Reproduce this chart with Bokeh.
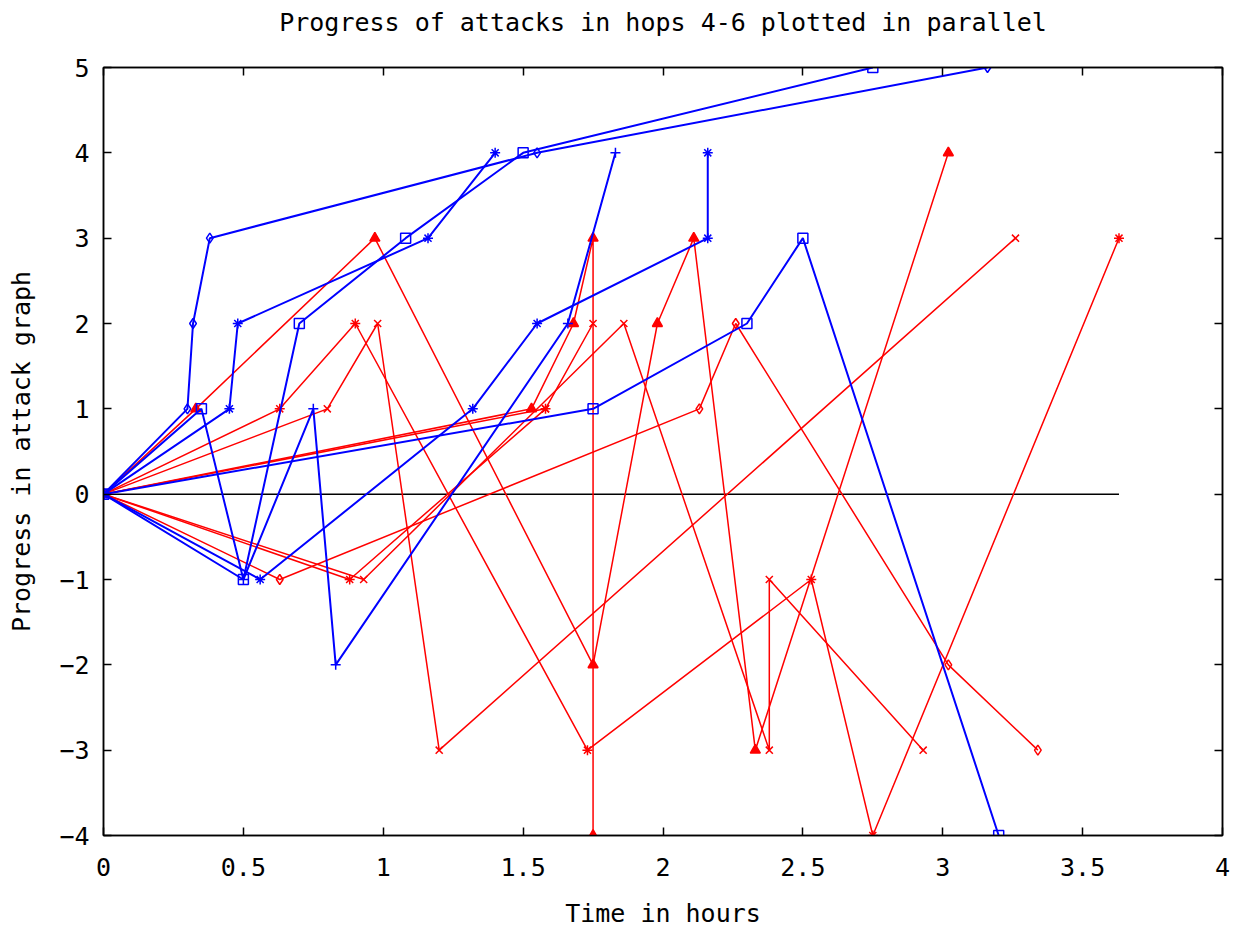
from bokeh.plotting import figure
from bokeh.models import LinearAxis, FixedTicker, NumeralTickFormatter, Range1d
from bokeh.embed import file_html
from bokeh.resources import INLINE

# ---- data (time in hours, progress in attack graph) ----
x_ticks = [0, 0.5, 1, 1.5, 2, 2.5, 3, 3.5, 4]
y_ticks = [-4, -3, -2, -1, 0, 1, 2, 3, 4, 5]

# blue series
b1_x = [0, 0.30, 0.32, 0.38, 1.55, 3.16]
b1_y = [0, 1, 2, 3, 4, 5]
b2_x = [0, 0.45, 0.48, 1.16, 1.40]
b2_y = [0, 1, 2, 3, 4]
b3_x = [0, 0.35, 0.50, 0.70, 1.08, 1.50, 2.75]
b3_y = [0, 1, -1, 2, 3, 4, 5]
b4_x = [0, 0.50, 0.75, 0.83, 1.66, 1.83]
b4_y = [0, -1, 1, -2, 2, 4]
b5_x = [0, 0.56, 1.32, 1.55, 2.16, 2.16]
b5_y = [0, -1, 1, 2, 3, 4]
b6_x = [0, 1.75, 2.30, 2.50, 3.20]
b6_y = [0, 1, 2, 3, -4]

# red series
r1_x = [0, 0.33, 0.97, 1.75, 1.98, 2.11, 2.33, 3.02]
r1_y = [0, 1, 3, -2, 2, 3, -3, 4]
r2_x = [0, 0.63, 0.90, 1.73, 2.53, 2.75, 3.63]
r2_y = [0, 1, 2, -3, -1, -4, 3]
r3_x = [0, 0.80, 0.98, 1.20, 3.26]
r3_y = [0, 1, 2, -3, 3]
r4_x = [0, 0.93, 1.86, 2.38, 2.38, 2.93]
r4_y = [0, -1, 2, -3, -1, -3]
r5_x = [0, 0.63, 2.13, 2.26, 3.02, 3.34]
r5_y = [0, -1, 1, 2, -2, -3]
r6_x = [0, 1.53, 1.68, 1.75, 1.75]
r6_y = [0, 1, 2, 3, -4]
r7_x = [0, 1.58, 1.75]
r7_y = [0, 1, 2]
r8_x = [0, 0.88, 1.58]
r8_y = [0, -1, 1]

baseline_x = [0, 3.63]
baseline_y = [0, 0]

TITLE = "Progress of attacks in hops 4-6 plotted in parallel"

BLUE = "#0000ff"
RED = "#ff0000"
FONT = "DejaVu Sans Mono"

blue_series = [
    (b1_x, b1_y, "diamond"),
    (b2_x, b2_y, "asterisk"),
    (b3_x, b3_y, "square"),
    (b4_x, b4_y, "cross"),
    (b5_x, b5_y, "asterisk"),
    (b6_x, b6_y, "square"),
]
red_series = [
    (r1_x, r1_y, "triangle"),
    (r2_x, r2_y, "asterisk"),
    (r3_x, r3_y, "x"),
    (r4_x, r4_y, "x"),
    (r5_x, r5_y, "diamond"),
    (r6_x, r6_y, "triangle"),
    (r7_x, r7_y, "x"),
    (r8_x, r8_y, "asterisk"),
]

p = figure(
    width=1236, height=930,
    x_range=Range1d(0, 4), y_range=Range1d(-4, 5),
    output_backend="svg", toolbar_location=None,
    min_border_left=103, min_border_right=14,
    min_border_top=67, min_border_bottom=95,
    title=TITLE + "\n ",
)
p.background_fill_color = "white"
p.border_fill_color = "white"
p.outline_line_color = "black"
p.outline_line_width = 1.5
p.xgrid.visible = False
p.ygrid.visible = False

p.title.align = "center"
p.title.text_font = FONT
p.title.text_font_size = "25px"
p.title.text_font_style = "normal"
p.title.text_color = "black"
p.title.standoff = 4

p.line(baseline_x, baseline_y, line_color="black", line_width=1.5)

for xs, ys, mk in red_series:
    p.line(xs, ys, line_color=RED, line_width=1.5)
    p.scatter(xs, ys, marker=mk, size=10, line_color=RED,
              fill_color=RED if mk == "triangle" else None, line_width=1.5)

for xs, ys, mk in blue_series:
    p.line(xs, ys, line_color=BLUE, line_width=2)
    p.scatter(xs, ys, marker=mk, size=10, line_color=BLUE, fill_color=None, line_width=1.5)

def style_axis(ax, ticks, show_labels=True):
    ax.ticker = FixedTicker(ticks=ticks)
    ax.major_tick_in = 8
    ax.major_tick_out = 0
    ax.minor_tick_line_color = None
    ax.axis_line_color = "black"
    ax.axis_line_width = 1.5
    ax.major_tick_line_color = "black"
    ax.major_tick_line_width = 1.5
    ax.major_label_text_font = FONT
    ax.major_label_text_font_size = "25px"
    ax.major_label_text_color = "black"
    ax.axis_label_text_font = FONT
    ax.axis_label_text_font_size = "25px"
    ax.axis_label_text_font_style = "normal"
    ax.axis_label_text_color = "black"
    if not show_labels:
        ax.major_label_text_alpha = 0
        ax.major_label_text_font_size = "1px"
        ax.major_label_standoff = 0

style_axis(p.xaxis[0], x_ticks)
p.xaxis[0].formatter = NumeralTickFormatter(format="0.[0]")
p.xaxis[0].axis_label = "Time in hours"
p.xaxis[0].major_label_standoff = 22
p.xaxis[0].axis_label_standoff = 20

style_axis(p.yaxis[0], y_ticks)
p.yaxis[0].axis_label = "Progress in attack graph"
p.yaxis[0].major_label_standoff = 14
p.yaxis[0].axis_label_standoff = 20

right_ax = LinearAxis()
style_axis(right_ax, y_ticks, show_labels=False)
p.add_layout(right_ax, "right")
top_ax = LinearAxis()
style_axis(top_ax, x_ticks, show_labels=False)
p.add_layout(top_ax, "above")

open("out.html", "w").write(file_html(p, INLINE))
